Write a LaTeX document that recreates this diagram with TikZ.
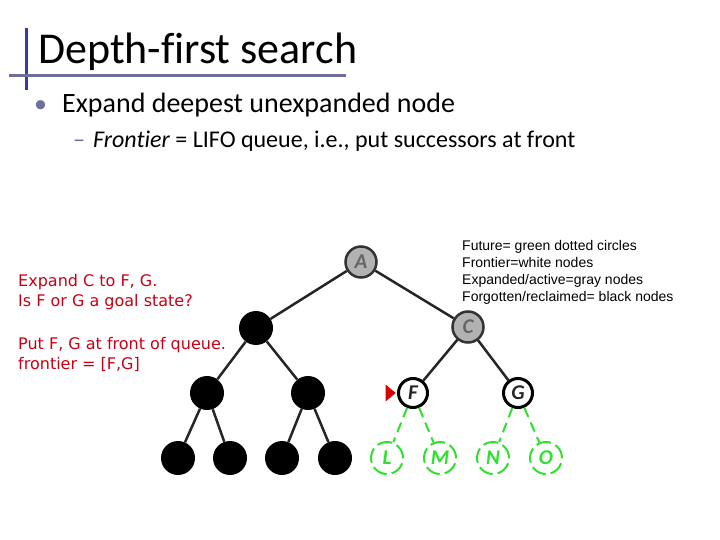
\documentclass[tikz,border=0pt]{standalone}
\usepackage{fontspec}
\setmainfont{Carlito}[Ligatures={NoCommon}]
\newfontfamily\notefont{DejaVu Sans}
\newfontfamily\legendfont{Liberation Sans}
\usetikzlibrary{shapes.geometric, arrows.meta, positioning}
\definecolor{titleblue}{RGB}{58,58,165}
\definecolor{rulegray}{RGB}{110,110,155}
\definecolor{notered}{RGB}{200,0,20}
\definecolor{nodegray}{RGB}{178,178,178}
\definecolor{futuregreen}{RGB}{45,225,45}
\tikzstyle{gone} = [circle, fill=black, minimum size=34pt, inner sep=0pt]
\tikzstyle{active} = [circle, draw=black!80, line width=2.5pt, fill=nodegray, minimum size=31pt, inner sep=0pt, font=\bfseries\itshape\fontsize{21}{21}\selectfont, text=black!60]
\tikzstyle{front} = [circle, draw=black, line width=3pt, fill=white, minimum size=29pt, inner sep=0pt, font=\bfseries\itshape\fontsize{21}{21}\selectfont, text=black!85]
\tikzstyle{future} = [circle, draw=futuregreen, line width=2pt, dash pattern=on 15pt off 5pt, minimum size=32pt, inner sep=0pt, text=futuregreen, font=\bfseries\itshape\fontsize{21}{21}\selectfont]
\tikzstyle{edge} = [line width=2.5pt, black!85]
\tikzstyle{fedge} = [line width=2pt, futuregreen, dash pattern=on 10pt off 6pt]
\tikzstyle{pointer} = [isosceles triangle, isosceles triangle apex angle=80, fill=red!85!black, minimum height=10pt, inner sep=0pt]

\begin{document}
\begin{tikzpicture}[x=1pt, y=-1pt]
      \useasboundingbox (0,0) rectangle (720,540);
      % title and rules
      \node[anchor=base west, inner sep=0pt, font=\fontsize{44}{44}\selectfont] (title) at (38,64) {Depth-first search};
      \coordinate (vtop) at (26,28);
      \coordinate (vbot) at (26,90);
      \coordinate (hl) at (9,76);
      \coordinate (hr) at (346,76);
      \draw[titleblue, line width=3pt] (vtop) -- (vbot);
      \draw[rulegray, line width=3pt] (hl) -- (hr);
      \node[anchor=base west, inner sep=0pt, font=\fontsize{28}{28}\selectfont] (bul) at (62,113) {Expand deepest unexpanded node};
      \node[anchor=base west, inner sep=0pt, text=rulegray, font=\fontsize{26}{26}\selectfont] (dot) at (34,113) {•};
      \node[anchor=base west, inner sep=0pt, font=\fontsize{24}{24}\selectfont] (sub) at (93,148) {\textit{Frontier} = LIFO queue, i.e., put successors at front};
      \node[anchor=base west, inner sep=0pt, text=rulegray, font=\fontsize{24}{24}\selectfont] (dash) at (73,148) {--};

      % notes
      \node[anchor=north west, inner sep=0pt, align=left, text=notered, font=\notefont\fontsize{16}{20.5}\selectfont] (note) at (18,274) {Expand C to F, G.\\Is F or G a goal state?\\[22pt]Put F, G at front of queue.\\frontier = [F,G]};
      \node[anchor=north west, inner sep=0pt, align=left, font=\legendfont\fontsize{14}{17}\selectfont] (legend) at (462,240) {Future= green dotted circles\\Frontier=white nodes\\Expanded/active=gray nodes\\Forgotten/reclaimed= black nodes};

      % tree
      \node[active] (a) at (361,262) {A};
      \node[gone] (b) at (256,328) {};
      \node[active] (c) at (468,327) {C};
      \node[gone] (d) at (207,393) {};
      \node[gone] (e) at (308,393) {};
      \node[front] (f) at (413,393) {F};
      \node[front] (g) at (518,393) {G};
      \node[gone] (h) at (178,458) {};
      \node[gone] (i) at (230,458) {};
      \node[gone] (j) at (282,458) {};
      \node[gone] (k) at (335,458) {};
      \node[future] (l) at (387,458) {L};
      \node[future] (m) at (440,458) {M};
      \node[future] (n) at (493,458) {N};
      \node[future] (o) at (546,458) {O};
      \node[pointer, left=1pt of f] (ptr) {};

      \draw[edge] (a) -- (b);
      \draw[edge] (a) -- (c);
      \draw[edge] (b) -- (d);
      \draw[edge] (b) -- (e);
      \draw[edge] (c) -- (f);
      \draw[edge] (c) -- (g);
      \draw[edge] (d) -- (h);
      \draw[edge] (d) -- (i);
      \draw[edge] (e) -- (j);
      \draw[edge] (e) -- (k);
      \draw[fedge] (f) -- (l);
      \draw[fedge] (f) -- (m);
      \draw[fedge] (g) -- (n);
      \draw[fedge] (g) -- (o);
    \end{tikzpicture}
\end{document}
